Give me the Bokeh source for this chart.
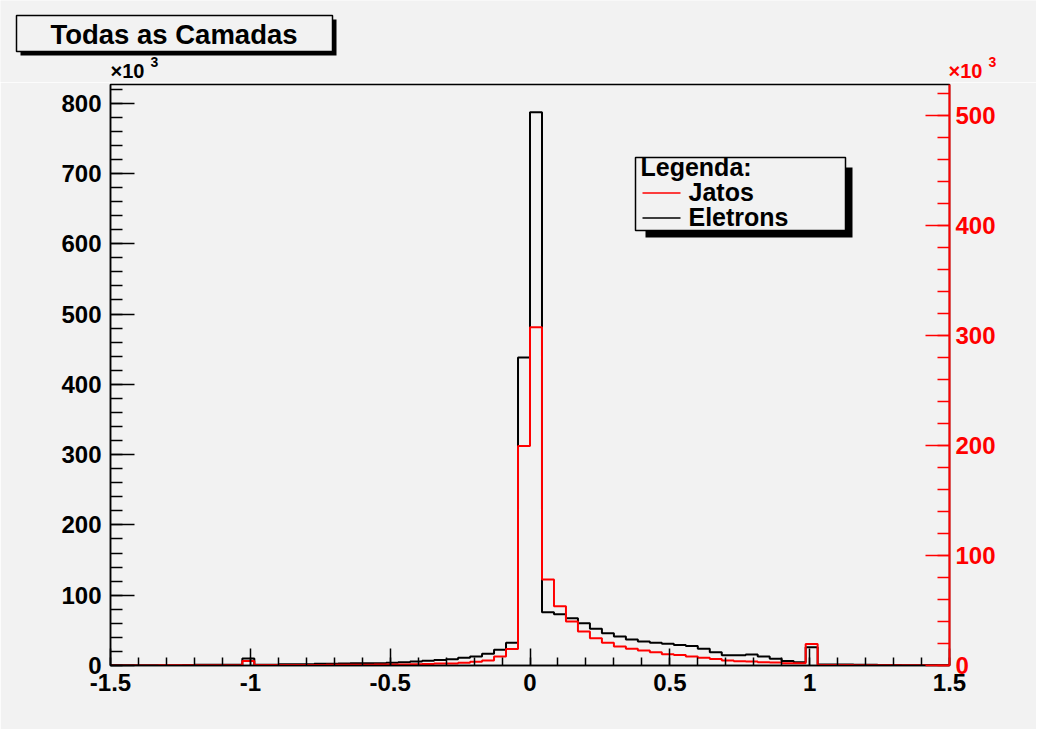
import numpy as np
from bokeh.plotting import figure
from bokeh.layouts import column
from bokeh.models import (Range1d, LinearAxis, SingleIntervalTicker, Label,
                          BoxAnnotation, Arrow)
from bokeh.embed import file_html
from bokeh.resources import INLINE

# ---------------- data (counts in thousands, 70 bins over [-1.5, 1.5]) ----------------
x_min, x_max, n_bins = -1.5, 1.5, 70

eletrons = [
    0.3, 0.3, 0.3, 0.4, 0.4, 0.5, 0.8, 0.9, 1.0, 1.0,
    1.1, 10.0, 1.2, 1.2, 1.9, 1.9, 1.9, 2.4, 2.4, 3.0,
    3.1, 3.2, 3.3, 3.9, 4.7, 5.7, 6.6, 8.0, 9.0, 10.9,
    12.8, 16.6, 22.3, 32.2, 438.0, 787.0, 75.8, 73.0, 67.3, 60.2,
    52.2, 46.0, 41.3, 37.0, 34.1, 32.2, 30.8, 29.0, 27.7, 24.0,
    19.0, 14.7, 14.7, 15.6, 12.7, 9.5, 6.4, 4.7, 26.0, 1.6,
    1.5, 1.4, 1.2, 1.1, 0.7, 0.6, 0.5, 0.5, 0.4, 0.4,
]

jatos = [
    0.1, 0.1, 0.1, 0.1, 0.2, 0.2, 0.2, 0.3, 0.3, 0.3,
    0.3, 4.0, 0.4, 0.4, 0.4, 0.5, 0.5, 0.5, 0.6, 0.6,
    0.7, 0.7, 0.8, 0.9, 1.0, 1.2, 1.3, 1.8, 1.9, 2.4,
    3.3, 4.5, 8.2, 15.0, 199.5, 307.5, 78.2, 53.9, 40.0, 30.9,
    24.8, 20.6, 17.3, 15.2, 13.6, 12.1, 10.3, 9.6, 8.2, 7.0,
    5.8, 4.5, 3.9, 3.6, 3.0, 2.7, 2.1, 2.1, 19.5, 0.5,
    0.4, 0.4, 0.3, 0.3, 0.3, 0.2, 0.2, 0.2, 0.1, 0.1,
]

y_left_max = 826.5   # x10^3 (Eletrons)
y_right_max = 528.0  # x10^3 (Jatos)

x_tick_labels = {-1.5: "-1.5", -1: "-1", -0.5: "-0.5", 0: "0", 0.5: "0.5", 1: "1", 1.5: "1.5"}

title_text = "Todas as Camadas"
legend_title = "Legenda:"
legend_labels = ["Jatos", "Eletrons"]
legend_colors = ["red", "black"]

# ---------------- layout (page pixels) ----------------
W = 1036
H_HDR = 82                 # header strip height
H_MAIN = 647               # main figure height
FL, FR, FT, FB = 110, 949, 84, 665   # frame in page pixels
BG = "#f2f2f2"
FONT = "Liberation Sans"
BASE_SHIFT = 0.375         # alphabetic-baseline correction (fraction of font size)


def sx(px):
    return x_min + (px - FL) / (FR - FL) * (x_max - x_min)


def sy(py):
    return y_left_max * (FB - py) / (FB - FT)


# ================= header strip (title box and x10^3 multipliers) =================
hdr = figure(width=W, height=H_HDR, output_backend="svg", toolbar_location=None,
             x_range=Range1d(0, W), y_range=Range1d(H_HDR, 0),
             x_axis_type=None, y_axis_type=None, min_border=0)
hdr.title.visible = False
hdr.background_fill_color = BG
hdr.border_fill_color = BG
hdr.outline_line_color = None
hdr.grid.visible = False

hdr.add_layout(BoxAnnotation(left=20, right=336, top=19, bottom=55,
                             fill_color="black", fill_alpha=1, line_alpha=0))
hdr.add_layout(BoxAnnotation(left=16, right=332, top=15, bottom=51,
                             fill_color=BG, fill_alpha=1, line_color="black",
                             line_alpha=1, line_width=1.5))
hdr.add_layout(Label(x=173.5, y=44.5 - BASE_SHIFT * 27.5, text=title_text, text_font=FONT,
                     text_font_style="bold", text_font_size="27.5px", text_align="center",
                     text_baseline="alphabetic", text_color="black"))

for x0, col in [(110, "black"), (948, "red")]:
    hdr.add_layout(Label(x=x0, y=77.5 - BASE_SHIFT * 20, text="×10", text_font=FONT,
                         text_font_style="bold", text_font_size="20px", text_color=col,
                         text_baseline="alphabetic"))
    hdr.add_layout(Label(x=x0 + 40, y=67 - BASE_SHIFT * 14, text="3", text_font=FONT,
                         text_font_style="bold", text_font_size="14px", text_color=col,
                         text_baseline="alphabetic"))

# ================= main histogram figure =================
p = figure(width=W, height=H_MAIN, output_backend="svg", toolbar_location=None,
           x_range=Range1d(x_min, x_max), y_range=Range1d(0, y_left_max),
           min_border_left=FL, min_border_right=W - FR,
           min_border_top=FT - H_HDR, min_border_bottom=H_HDR + H_MAIN - FB)
p.title.visible = False
p.extra_y_ranges = {"right": Range1d(0, y_right_max)}

try:
    hdr.frame_align = False
    p.frame_align = False
except Exception:
    pass

p.background_fill_color = BG
p.border_fill_color = BG
p.outline_line_color = "black"
p.outline_line_width = 1.5
p.grid.visible = False

# bottom axis
xa = p.xaxis[0]
xa.ticker = SingleIntervalTicker(interval=0.5, num_minor_ticks=5)
xa.major_label_overrides = x_tick_labels
xa.major_tick_in, xa.major_tick_out = 17, 0
xa.minor_tick_in, xa.minor_tick_out = 8, 0
xa.axis_line_width = 1.5
xa.major_tick_line_width = 1.5
xa.minor_tick_line_width = 1.5
xa.major_label_standoff = 8
xa.major_label_text_font = FONT
xa.major_label_text_font_style = "bold"
xa.major_label_text_font_size = "24px"
xa.major_label_text_color = "black"

# left axis
ya = p.yaxis[0]
ya.ticker = SingleIntervalTicker(interval=100, num_minor_ticks=5)
ya.major_tick_in, ya.major_tick_out = 24, 0
ya.minor_tick_in, ya.minor_tick_out = 12, 0
ya.axis_line_width = 1.5
ya.major_tick_line_width = 1.5
ya.minor_tick_line_width = 1.5
ya.major_label_standoff = 9
ya.major_label_text_font = FONT
ya.major_label_text_font_style = "bold"
ya.major_label_text_font_size = "24px"
ya.major_label_text_color = "black"

# right axis (red, Jatos scale)
ra = LinearAxis(y_range_name="right",
                ticker=SingleIntervalTicker(interval=100, num_minor_ticks=5))
ra.major_tick_in, ra.major_tick_out = 24, 0
ra.minor_tick_in, ra.minor_tick_out = 12, 0
ra.axis_line_color = "red"
ra.axis_line_width = 2
ra.major_tick_line_color = "red"
ra.minor_tick_line_color = "red"
ra.major_tick_line_width = 1.5
ra.minor_tick_line_width = 1.5
ra.major_label_standoff = 6
ra.major_label_text_font = FONT
ra.major_label_text_font_style = "bold"
ra.major_label_text_font_size = "24px"
ra.major_label_text_color = "red"
p.add_layout(ra, "right")

# histograms
edges = np.linspace(x_min, x_max, n_bins + 1)
p.step(edges, np.append(eletrons, eletrons[-1]), mode="after",
       line_color="black", line_width=2)
p.step(edges, np.append(jatos, jatos[-1]), mode="after",
       line_color="red", line_width=2, y_range_name="right")

# legend box with shadow
p.add_layout(BoxAnnotation(left=sx(645), right=sx(852), top=sy(167), bottom=sy(237),
                           fill_color="black", fill_alpha=1, line_alpha=0))
p.add_layout(BoxAnnotation(left=sx(635), right=sx(845), top=sy(157), bottom=sy(230),
                           fill_color=BG, fill_alpha=1, line_color="black",
                           line_alpha=1, line_width=1.5))
p.add_layout(Label(x=sx(640), y=sy(176 - BASE_SHIFT * 25), text=legend_title, text_font=FONT,
                   text_font_style="bold", text_font_size="25px", text_color="black",
                   text_baseline="alphabetic"))
for i, (lab, col) in enumerate(zip(legend_labels, legend_colors)):
    ly = 192.5 + 25 * i
    p.add_layout(Arrow(end=None, x_start=sx(642), x_end=sx(680), y_start=sy(ly), y_end=sy(ly),
                       line_color=col, line_width=1.5))
    p.add_layout(Label(x=sx(688), y=sy(ly + 8.5 - BASE_SHIFT * 25), text=lab, text_font=FONT,
                       text_font_style="bold", text_font_size="25px", text_color="black",
                       text_baseline="alphabetic"))

layout = column(hdr, p, spacing=0)
open("out.html", "w").write(file_html(layout, INLINE))
